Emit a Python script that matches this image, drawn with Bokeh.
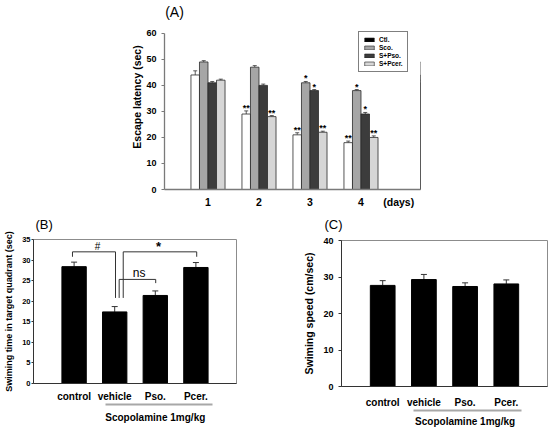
from bokeh.plotting import figure
from bokeh.layouts import column, row
from bokeh.models import (ColumnDataSource, FixedTicker, LinearAxis, Range1d,
                          Whisker, TeeHead, Legend, LegendItem, Label)
from bokeh.core.properties import value
from bokeh.embed import file_html
from bokeh.resources import INLINE

# ---------------- data : panel A ----------------
days = [1, 2, 3, 4]
day_labels = ["1", "2", "3", "4"]
days_unit_label = "(days)"
days_unit_pos = 4.74
series_names = ["Ctl.", "Sco.", "S+Pso.", "S+Pcer."]
ctl = [44, 29, 21, 18]
sco = [49, 47, 41, 38]
pso = [41, 40, 38, 29]
pcer = [42, 28, 22, 20]
ctl_err = [1.6, 1.2, 0.8, 0.6]
sco_err = [0.5, 0.6, 0.5, 0.4]
pso_err = [0.5, 0.5, 0.4, 0.6]
pcer_err = [0.4, 0.4, 0.4, 0.6]
ctl_sig = ["", "**", "**", "**"]
sco_sig = ["", "", "*", "*"]
pso_sig = ["", "", "*", "*"]
pcer_sig = ["", "**", "**", "**"]
latency_ticks = [0, 10, 20, 30, 40, 50, 60]

# ---------------- data : panels B and C ----------------
groups = ["control", "vehicle", "Pso.", "Pcer."]
group_pos = [1, 2, 3, 4]
swim_time = [28.4, 17.4, 21.4, 28.2]
swim_time_err = [1.1, 1.3, 1.1, 1.2]
swim_speed = [27.7, 29.3, 27.4, 28.1]
swim_speed_err = [1.3, 1.4, 1.0, 1.1]
time_ticks = [0, 5, 10, 15, 20, 25, 30, 35]
speed_ticks = [0, 10, 20, 30, 40]
treatment_label = "Scopolamine 1mg/kg"

bracket_xs = [[0.96, 0.96, 2.02, 2.02], [2.21, 2.21, 4.02, 4.02], [2.11, 2.11, 3.01, 3.01]]
bracket_ys = [[30.8, 32.0, 32.0, 20.8], [20.8, 32.0, 32.0, 30.8], [20.8, 25.3, 25.3, 24.4]]
bracket_labels = ["#", "*", "ns"]
bracket_label_x = [1.58, 3.08, 2.6]
bracket_label_y = [33.3, 33.3, 26.8]

FONT = "Liberation Sans"


def set_title(p, text, size, offset, standoff):
    p.title.text = text
    p.title.align = "left"
    p.title.vertical_align = "top"
    p.title.offset = offset
    p.title.standoff = standoff
    p.title.text_font = FONT
    p.title.text_font_style = "normal"
    p.title.text_font_size = size
    p.title.text_color = "black"


# ---------------- panel A ----------------
# frame reaches up to the panel letter; the axis line itself is bounded to 0..60
pA = figure(width=550, height=210, x_range=Range1d(0.147, 5.167), y_range=Range1d(0, 71.08),
            output_backend="svg", toolbar_location=None,
            min_border_left=164, min_border_right=130, min_border_top=4, min_border_bottom=18)
pA.outline_line_color = None
pA.grid.visible = False

bw = 0.167
fills = ["white", "#a6a6a6", "#3c3c3c", "#d6d6d6"]
legend_fills = ["black", "#a6a6a6", "#3c3c3c", "#d6d6d6"]
all_vals = [ctl, sco, pso, pcer]
all_errs = [ctl_err, sco_err, pso_err, pcer_err]
all_sigs = [ctl_sig, sco_sig, pso_sig, pcer_sig]
for i in range(4):
    off = (i - 1.5) * bw
    src = ColumnDataSource(dict(
        x=[d + off for d in days], top=all_vals[i],
        upper=[v + e for v, e in zip(all_vals[i], all_errs[i])],
        sig=all_sigs[i]))
    pA.vbar(x="x", top="top", width=bw, source=src, fill_color=fills[i],
            line_color="#2a2a2a", line_width=0.8)
    pA.add_layout(Whisker(source=src, base="x", upper="upper", lower="top",
                          line_color="#333333", line_width=0.8,
                          upper_head=TeeHead(size=4, line_color="#333333", line_width=0.8),
                          lower_head=None))
    pA.text(x="x", y="upper", text="sig", source=src, text_align="center",
            text_baseline="alphabetic", y_offset=-3, text_font=value(FONT),
            text_font_style="bold", text_font_size="9px", text_color="black")

# legend swatches: off-screen dummy bars (outside the x range) carrying the legend colours
items = []
for i in range(4):
    r = pA.vbar(x=[max(days) + 10], top=[all_vals[i][0]], width=bw, fill_color=legend_fills[i],
                line_color="#222222", line_width=0.6)
    items.append(LegendItem(label=series_names[i], renderers=[r]))
leg = Legend(items=items, location=(194, 117), label_text_font=FONT, label_text_font_style="bold",
             label_text_font_size="6.5px", label_text_color="black", label_height=7,
             glyph_height=5, glyph_width=12, label_standoff=4, spacing=1, padding=4, margin=0,
             border_line_color="black", border_line_width=0.8, background_fill_color="white",
             background_fill_alpha=1)
pA.add_layout(leg)
pA.add_layout(Label(x=0.16, y=68.1, text="(A)", text_font=FONT, text_font_size="14px",
                    text_color="black", text_align="left", text_baseline="middle"))

pA.yaxis.ticker = FixedTicker(ticks=latency_ticks)
pA.yaxis.bounds = (latency_ticks[0], latency_ticks[-1])
pA.yaxis.axis_label = "Escape latency (sec)"
pA.xaxis.ticker = FixedTicker(ticks=days + [days_unit_pos])
overA = {d: l for d, l in zip(days, day_labels)}
overA[days_unit_pos] = days_unit_label
pA.xaxis.major_label_overrides = overA
for ax in [pA.xaxis[0], pA.yaxis[0]]:
    ax.axis_line_color = "#7a7a7a"
    ax.axis_line_width = 1.3
    ax.major_tick_line_color = "#7a7a7a"
    ax.minor_tick_line_color = None
    ax.major_label_text_font = FONT
    ax.major_label_text_font_style = "bold"
    ax.major_label_text_color = "black"
    ax.axis_label_text_font = FONT
    ax.axis_label_text_font_style = "bold"
    ax.axis_label_text_color = "black"
pA.yaxis.major_tick_out = 3
pA.yaxis.major_tick_in = 0
pA.yaxis.major_label_standoff = 5
pA.yaxis.axis_label_standoff = 0
pA.yaxis.major_label_text_font_size = "9px"
pA.yaxis.axis_label_text_font_size = "10.5px"
pA.xaxis.major_tick_line_color = None
pA.xaxis.major_tick_out = 0
pA.xaxis.major_tick_in = 0
pA.xaxis.major_label_standoff = 6
pA.xaxis.major_label_text_font_size = "10.5px"


def style_bc(p, ticks, tick_font, title, title_font, tick_out, lab_stand, title_stand, x_stand):
    p.grid.visible = False
    p.outline_line_color = "#8c8c8c"
    p.yaxis.ticker = FixedTicker(ticks=ticks)
    p.yaxis.axis_label = title
    p.xaxis.ticker = FixedTicker(ticks=group_pos)
    p.xaxis.major_label_overrides = {g: n for g, n in zip(group_pos, groups)}
    for ax in [p.xaxis[0], p.yaxis[0]]:
        ax.axis_line_color = "#333333"
        ax.major_tick_line_color = "#333333"
        ax.minor_tick_line_color = None
        ax.major_label_text_font = FONT
        ax.major_label_text_font_style = "bold"
        ax.major_label_text_color = "black"
        ax.axis_label_text_font = FONT
        ax.axis_label_text_font_style = "bold"
        ax.axis_label_text_color = "black"
    p.yaxis.major_tick_out = tick_out
    p.yaxis.major_tick_in = 0
    p.yaxis.major_label_standoff = lab_stand
    p.yaxis.axis_label_standoff = title_stand
    p.yaxis.major_label_text_font_size = tick_font
    p.yaxis.axis_label_text_font_size = title_font
    p.xaxis[0].major_tick_line_color = None
    p.xaxis[0].major_tick_out = 0
    p.xaxis[0].major_tick_in = 0
    p.xaxis[0].major_label_standoff = x_stand
    p.xaxis[0].major_label_text_font_size = "10px"


def add_treatment_axis(p, bounds, standoff):
    ax = LinearAxis(ticker=FixedTicker(ticks=[3]), major_label_overrides={3: treatment_label},
                    bounds=bounds, axis_line_color="#a8a8a8", axis_line_width=2,
                    major_tick_line_color=None, major_tick_out=0, major_tick_in=0,
                    minor_tick_line_color=None, major_label_standoff=standoff,
                    major_label_text_font=FONT, major_label_text_font_style="bold",
                    major_label_text_color="black", major_label_text_font_size="10px")
    p.add_layout(ax, "below")


# ---------------- panel B ----------------
pB = figure(width=300, height=219, x_range=Range1d(0, 5), y_range=Range1d(0, 35),
            output_backend="svg", toolbar_location=None,
            min_border_left=33, min_border_right=64, min_border_top=28, min_border_bottom=46)
set_title(pB, "(B)", "13px", 2, 12)
srcB = ColumnDataSource(dict(x=group_pos, top=swim_time,
                             upper=[v + e for v, e in zip(swim_time, swim_time_err)]))
pB.vbar(x="x", top="top", width=0.6, source=srcB, fill_color="black", line_color="black")
pB.add_layout(Whisker(source=srcB, base="x", upper="upper", lower="top", line_color="#333333",
                      upper_head=TeeHead(size=6, line_color="#333333"), lower_head=None))
pB.multi_line(xs=bracket_xs, ys=bracket_ys, line_color="#333333", line_width=1)
pB.add_layout(Label(x=bracket_label_x[0], y=bracket_label_y[0], text=bracket_labels[0],
                    text_font=FONT, text_font_size="10px", text_color="black",
                    text_align="center", text_baseline="middle"))
pB.add_layout(Label(x=bracket_label_x[1], y=bracket_label_y[1], text=bracket_labels[1],
                    text_font=FONT, text_font_size="13px", text_font_style="bold",
                    text_color="black", text_align="center", text_baseline="middle"))
pB.add_layout(Label(x=bracket_label_x[2], y=bracket_label_y[2], text=bracket_labels[2],
                    text_font=FONT, text_font_size="12px", text_color="black",
                    text_align="center", text_baseline="middle"))
style_bc(pB, time_ticks, "7.5px", "Swiming time in target quadrant (sec)", "9px", 2, 1, 5, 7)
add_treatment_axis(pB, (1.78, 4.42), 7)

# ---------------- panel C ----------------
pC = figure(width=250, height=219, x_range=Range1d(0, 5), y_range=Range1d(0, 40),
            output_backend="svg", toolbar_location=None,
            min_border_left=41, min_border_right=3, min_border_top=30, min_border_bottom=40)
set_title(pC, "(C)", "13px", -17, 13)
srcC = ColumnDataSource(dict(x=group_pos, top=swim_speed,
                             upper=[v + e for v, e in zip(swim_speed, swim_speed_err)]))
pC.vbar(x="x", top="top", width=0.6, source=srcC, fill_color="black", line_color="black")
pC.add_layout(Whisker(source=srcC, base="x", upper="upper", lower="top", line_color="#333333",
                      upper_head=TeeHead(size=6, line_color="#333333"), lower_head=None))
style_bc(pC, speed_ticks, "9px", "Swiming speed (cm/sec)", "10.5px", 3, 5, 5, 10)
add_treatment_axis(pC, (1.74, 4.38), 5)

layout = column(pA, row(column(pB), column(pC), spacing=0), spacing=0)
open("out.html", "w").write(file_html(layout, INLINE))
